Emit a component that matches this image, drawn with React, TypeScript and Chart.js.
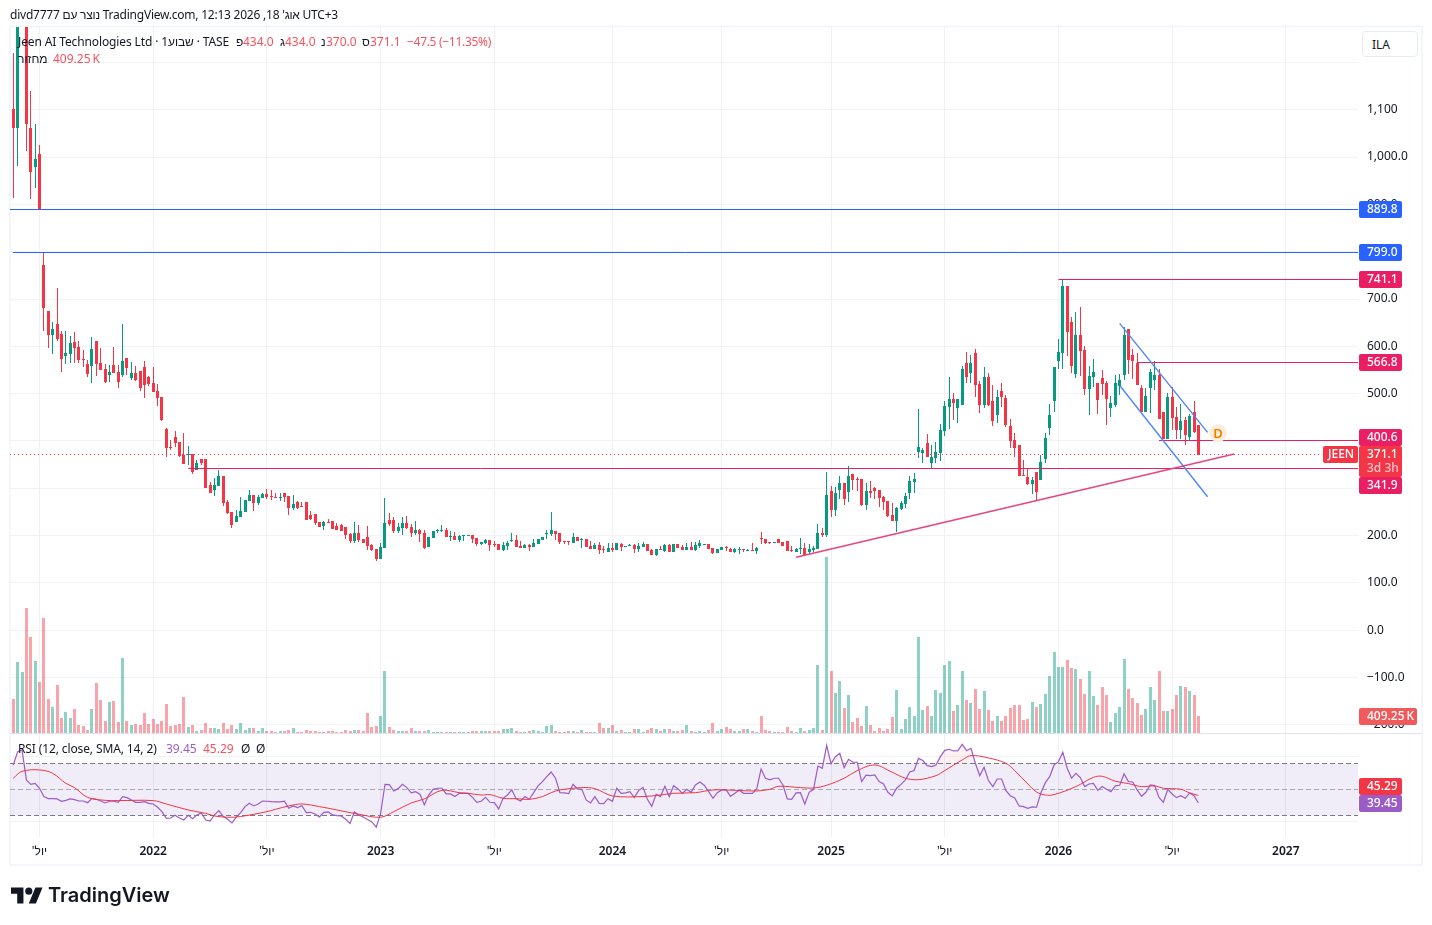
import React, { useEffect, useRef } from "react";
import { Chart, registerables } from "chart.js";

Chart.register(...registerables);

const opens = [
  1101,1062,1340,1450,1061,979,1006,772,675,625,
  647,626,580,584,609,599,573,563,559,611,
  565,552,539,561,546,539,575,533,544,548,
  556,535,523,506,493,425,387,408,398,370,
  370,372,339,362,362,307,296,305,326,271,
  250,229,239,250,273,286,269,280,288,284,
  282,280,290,284,258,271,263,271,244,246,
  229,220,229,231,220,222,218,203,189,206,
  193,197,180,172,151,174,233,233,210,216,
  227,218,206,212,206,176,195,210,210,212,
  197,199,191,199,200,201,195,182,185,191,
  182,182,170,178,189,191,178,174,180,176,
  182,191,204,204,210,206,189,188,185,197,
  191,193,178,172,180,172,165,174,170,182,
  177,178,180,172,176,182,170,159,172,168,
  180,165,182,176,170,176,170,178,181,182,
  174,163,170,176,172,165,170,172,168,170,
  168,195,193,187,185,193,187,189,170,165,
  172,174,165,170,172,206,201,294,254,297,
  311,292,330,320,320,265,294,301,297,282,
  273,244,231,256,267,290,313,377,375,396,
  354,364,375,421,472,489,470,476,565,544,
  586,520,476,535,485,455,506,491,432,402,
  392,328,324,309,335,318,362,427,485,569,
  586,727,651,542,624,592,510,535,523,533,
  523,470,476,516,539,637,582,565,512,461,
  512,529,539,461,404,493,451,423,444,408,
  461,434,
];
const highs = [
  1219,1420,1560,1520,1139,1070,1025,799,675,651,
  723,632,632,622,630,611,592,571,620,611,
  596,563,561,599,561,647,575,567,558,548,
  569,537,556,520,493,427,402,421,398,417,
  389,372,360,362,362,313,322,339,326,275,
  250,254,282,275,296,286,286,290,299,296,
  290,290,290,284,286,273,271,271,252,246,
  229,231,235,231,227,225,218,206,229,222,
  193,220,182,172,184,280,248,239,227,239,
  242,225,231,214,212,197,210,214,223,216,
  210,208,201,201,201,201,195,187,193,191,
  189,182,187,189,206,201,189,182,182,193,
  193,197,212,250,210,206,189,189,206,197,
  195,193,189,185,187,178,185,185,185,185,
  178,182,182,185,187,182,172,172,178,182,
  182,182,182,180,185,187,187,191,182,182,
  174,172,176,178,174,174,176,172,172,185,
  176,208,193,187,187,193,187,189,178,174,
  195,185,182,178,225,216,335,305,303,326,
  311,347,330,324,320,311,316,303,297,284,
  273,269,261,273,290,326,332,468,385,415,
  392,398,436,485,535,501,489,559,588,582,
  594,527,556,544,518,508,523,497,447,417,
  392,360,343,324,335,370,417,478,556,615,
  741,727,662,673,683,601,559,573,523,550,
  527,495,539,542,641,637,594,586,518,512,
  552,569,552,461,501,514,472,478,451,457,
  485,434,
];
const lows = [
  914,982,1300,1013,911,934,889,633,597,584,
  612,546,563,565,565,565,556,535,523,537,
  550,523,525,544,512,535,539,529,527,506,
  491,516,503,474,442,366,381,387,366,351,
  349,330,339,349,301,290,284,305,263,245,
  216,229,239,250,273,252,265,280,277,275,
  279,273,271,244,254,256,261,233,233,222,
  218,212,227,214,212,210,193,184,184,187,
  184,170,168,146,151,174,220,206,206,201,
  214,197,201,187,172,176,195,206,208,197,
  189,191,187,189,199,185,178,180,182,168,
  176,170,168,170,187,176,174,174,168,176,
  182,191,193,199,191,182,182,180,185,189,
  174,176,172,172,161,163,165,165,170,168,
  176,178,163,165,176,168,159,157,170,165,
  165,165,174,170,170,170,168,174,180,172,
  161,163,170,168,165,163,161,165,168,168,
  161,182,182,182,185,185,178,168,165,165,
  161,159,161,165,172,197,197,239,242,277,
  265,271,297,294,263,254,280,277,261,254,
  239,231,208,254,258,277,290,364,354,366,
  343,354,358,411,425,444,438,476,523,523,
  493,459,470,474,432,438,472,430,385,366,
  326,326,307,288,273,318,354,413,461,553,
  552,580,544,533,537,497,455,514,457,497,
  434,451,472,497,529,542,531,518,461,461,
  459,508,447,404,404,423,404,404,392,402,
  417,370,
];
const closes = [
  1062,1350,1500,1070,968,996,890,682,625,637,
  616,574,586,607,597,571,571,542,594,563,
  550,525,546,544,525,569,554,544,529,512,
  518,520,503,491,444,385,385,396,368,351,
  372,334,353,353,301,290,307,326,269,247,
  222,241,252,275,286,269,282,288,282,282,
  280,282,282,258,267,258,261,233,235,227,
  218,229,227,214,212,210,201,189,206,191,
  184,178,170,151,176,227,225,210,218,227,
  216,206,212,204,174,197,210,212,212,197,
  199,191,199,201,201,193,182,187,191,180,
  180,170,180,185,191,176,174,180,176,185,
  193,197,206,212,204,187,187,186,197,189,
  193,176,172,180,170,170,174,170,185,176,
  178,180,172,178,182,168,159,172,170,180,
  165,182,174,170,176,170,180,185,182,172,
  163,172,176,174,165,172,172,170,170,168,
  174,193,185,185,187,185,178,168,168,172,
  174,159,172,174,206,201,286,254,290,311,
  277,326,318,318,265,294,290,294,280,271,
  242,231,258,269,284,316,320,387,381,366,
  366,377,423,474,489,480,489,552,535,565,
  518,476,535,476,442,493,493,434,400,385,
  326,326,309,318,292,356,406,455,556,588,
  727,630,559,624,590,510,537,546,487,520,
  489,480,523,529,624,571,569,518,461,495,
  546,539,447,404,493,449,423,442,413,453,
  419,371.1,
];
const volumeK = [
  824,1712,1472,3008,2312,1736,1232,2768,824,632,
  1160,368,512,368,584,200,176,80,584,1208,
  800,296,752,776,272,1808,296,200,224,200,
  488,224,344,224,296,704,176,200,224,872,
  152,200,56,80,248,128,128,104,248,104,
  200,104,248,80,128,128,56,128,56,56,
  32,56,56,80,128,32,32,80,56,56,
  32,32,56,56,32,32,80,56,80,80,
  56,488,152,176,416,1496,152,80,56,56,
  56,128,56,56,56,80,32,32,32,32,
  32,32,32,32,32,56,56,56,56,56,
  56,56,104,104,128,56,32,32,56,80,
  56,32,176,200,56,32,32,56,56,32,
  80,32,32,32,248,128,128,200,56,80,
  32,32,104,104,32,80,128,104,56,104,
  104,56,56,80,200,56,32,56,32,80,
  248,56,104,152,104,56,56,104,104,56,
  32,416,80,56,32,32,32,152,56,32,
  128,56,80,128,1640,80,4232,1496,968,1256,
  608,920,272,368,176,656,200,56,128,56,
  104,392,1040,104,344,632,416,2312,560,656,
  416,1040,968,1640,1736,536,680,1496,800,728,
  1064,584,1016,560,296,416,296,416,608,680,
  680,320,344,752,632,704,944,1376,1952,1592,
  1592,1760,1568,1544,1304,944,1496,896,680,1112,
  920,272,488,632,1784,1064,848,728,440,584,
  1112,800,1496,536,536,584,920,1136,1112,1016,
  920,409.25,
];
const rsi = [
  68.7,79,80.3,57.2,53.8,54.6,50.8,44.4,42.8,42.8,
  42.6,40.8,41.5,42.6,42,41,41,39.7,43,42.3,
  41,39.5,40.8,40.8,40,44.4,43.6,41.8,40,40,
  40.5,39.2,38.7,36.2,32.8,27.7,27.9,30,27.9,26.4,
  30,27.4,30.3,31.8,26.4,25.6,30.3,33.6,29.2,26.9,
  24.1,28.5,32,36.7,39.2,37.2,38.7,41,40.8,40.5,
  40.3,40.3,40.8,35.4,37.2,35.9,37.4,32,32.3,31,
  28.7,32.3,32.6,30.3,29.7,29.5,26.9,23.8,32.6,30.3,
  28.7,26.7,24.9,20.8,31.5,53.8,53.6,48.7,50.5,53.8,
  51.3,47.2,48.2,46.2,38.2,45.6,50,50.8,50.8,46.4,
  46.4,44.4,46.9,46.9,46.9,43.8,40,40.8,
  43.8,40,39.7,34.9,43.1,45.6,49.5,42.6,41,44.4,42.3,47.4,
  52.6,55.9,59.7,63.3,58.5,47.4,47.2,46.7,53.8,50.3,
  50,41.8,39.5,44.4,39.2,39,42.8,40.8,50.8,46.9,
  47.2,48.2,43.8,49,51.5,42.3,36.9,46.2,44.4,52.3,
  44.4,52.8,50.3,46.9,50,47.7,53.3,55.6,53.1,48.2,
  43.1,47.4,49.5,49.7,44.6,46.9,49.2,46.9,46.9,46.9,
  50.3,65.6,58.5,57.2,58.5,58.5,53.3,42.6,42.3,47.2,
  47.4,38.7,47.7,50,67.9,66.2,83.8,69.7,75.1,77.7,
  66.7,73.1,70.8,70.8,55.9,60.8,60.5,61,55.9,54.1,
  47.7,44.9,50.8,53.8,57.2,63.3,64.4,73.8,72.1,68.2,
  67.4,68.7,75.1,80,80.8,79.5,79.7,84.6,79.7,81.5,
  70,60.5,66.9,56.7,52.1,57.9,57.9,49,45.1,43.3,
  37.2,36.7,35.4,36.4,36.2,47.4,55.1,59.7,68.7,71.3,
  78.5,66.2,58.5,62.3,59,52.1,54.1,54.6,49.2,52.1,
  50,48.2,52.6,53.1,61.8,55.9,55.6,49.5,44.6,47.7,
  53.3,52.8,43.8,40,50,46.4,43.6,45.1,43.1,47.2,
  45.1,39.45,
];
const rsiMaBars = [
  0,2,6,9,12,14,17,21,24,32,35,40,44,46,49,52,58,60,63,66,70,74,79,84,87,91,94,98,102,104,107,
  109,112,115,118,121,123,125,130,133,137,144,148,151,156,160,165,170,173,175,180,183,186,190,193,197,201,204,207,211,213,
  217,219,223,227,229,232,234,236,238,243,247,249,252,255,258,261,263,267,269,271,
];
const rsiMaValues = [
  58.5,63.8,64.9,62.3,54.6,51.3,43.8,41.5,41.3,41.3,38.7,34.1,31.5,29.5,28.5,29,32.8,34.6,37.2,38.7,36.7,34.1,30.8,28.5,32.8,39.5,42.6,49.2,47.4,46.9,45.6,
  45.9,43.1,42.8,42.3,44.4,47.4,49.5,51.3,50.5,44.9,44.4,45.6,46.9,47.4,49.5,49.2,48.7,50,52.3,51.3,51,53.1,58.5,64.4,68.7,63.1,58.5,57.4,60.5,64.4,
  72.6,75.9,74.1,70,64.4,54.1,47.9,45.6,45.9,52.1,59.2,60,56.2,54.4,52.1,52.6,50.8,50,47.2,45.29,
];
const priceTicks = [1200,1100,1000,900,800,700,600,500,400,300,200,100,0,-100,-200];
const rsiTicks = [75,25];
const timeTicks = [6,32,58,84,110,137,162,187,213,239,265,291];
const JUL = "יול'\u200F";
const timeLabels = [JUL,"2022",JUL,"2023",JUL,"2024",JUL,"2025",JUL,"2026",JUL,"2027"];

const levelValues = [889.8,799.0,741.1,566.8,400.6,341.9];
const levelStarts = [-0.75,-0.1,239,257,262,40];
const levelColors = ["#2962ff","#2962ff","#e91e63","#e91e63","#e91e63","#e91e63"];
const LAST_PRICE = 371.1;

const trendX = [179,279.2];
const trendY = [154.2,372.5];
const channelTopX = [253,273.1];
const channelTopY = [648.6,418.3];
const channelBottomX = [253.1,273.1];
const channelBottomY = [516.2,282.3];

const tagValues = [889.8,799.0,741.1,566.8];
const tagColors = ["#2962ff","#2962ff","#e91e63","#e91e63"];

const GREEN = "#089981";
const RED = "#F23645";
const LEGEND_RED = "#f7525f";
const PINK = "#e91e63";
const PURPLE = "#9c5cc8";
const FONT = "'Noto Sans', sans-serif";
const X_MAX = 307.5;
const X_MIN = -0.75;

const isUp = (i: number) => closes[i] >= opens[i];
const fmtPrice = (v: number) => {
  if (v === 1200) return "";
  if (v === 1100) return "1,100";
  if (v === 1000) return "1,000.0";
  return (v < 0 ? "\u2212" : "") + Math.abs(v).toFixed(1);
};

const pixelSnap = {
  id: "pixelSnap",
  afterDatasetsUpdate(chart: any) {
    chart.getSortedVisibleDatasetMetas().forEach((m: any) => {
      if (m.type === "bar") {
        m.data.forEach((el: any) => {
          el.x = Math.floor(el.x) + 0.5;
          el.y = Math.round(el.y);
          el.base = Math.round(el.base);
          if (el.y === el.base) el.base = el.y + 1;
        });
      } else if ((chart.data.datasets[m.index] as any).snapY) {
        m.data.forEach((el: any) => {
          el.y = Math.floor(el.y) + 0.5;
        });
      }
    });
  },
};

const roundRect = (c: CanvasRenderingContext2D, x: number, y: number, w: number, h: number, r: number) => {
  c.beginPath();
  c.roundRect(x, y, w, h, r);
  c.fill();
};

const panes = {
  id: "panes",
  beforeDraw(chart: any) {
    const c = chart.ctx;
    c.save();
    c.fillStyle = "#ffffff";
    c.fillRect(0, 0, chart.width, chart.height);
    c.strokeStyle = "#f0f3fa";
    c.lineWidth = 1.5;
    c.strokeRect(10, 26.5, 1412, 838.5);
    c.restore();
  },
  beforeDatasetsDraw(chart: any) {
    const c = chart.ctx;
    const a = chart.chartArea;
    const r = chart.scales.rsi;
    const y70 = r.getPixelForValue(70);
    const y50 = r.getPixelForValue(50);
    const y30 = r.getPixelForValue(30);
    c.save();
    c.fillStyle = "rgba(126,87,194,0.115)";
    c.fillRect(a.left, y70, a.width, y30 - y70);
    c.lineWidth = 1;
    c.setLineDash([5, 3]);
    [[y70, "#787b86"], [y50, "rgba(120,123,134,0.6)"], [y30, "#787b86"]].forEach(([y, col]: any) => {
      c.strokeStyle = col;
      c.beginPath();
      c.moveTo(a.left, Math.floor(y) + 0.5);
      c.lineTo(a.right, Math.floor(y) + 0.5);
      c.stroke();
    });
    c.setLineDash([]);
    const sep = Math.floor(chart.scales.volume.getPixelForValue(0)) + 0.5;
    c.strokeStyle = "#e0e3eb";
    c.beginPath();
    c.moveTo(a.left, sep);
    c.lineTo(1422, sep);
    c.stroke();
    c.restore();
  },
  afterDraw(chart: any) {
    const c = chart.ctx;
    const p = chart.scales.price;
    const v = chart.scales.volume;
    const r = chart.scales.rsi;
    const x = chart.scales.x;
    const L = 1359;
    const W = 43;
    c.save();
    c.textBaseline = "middle";
    c.textAlign = "left";
    const box = (top: number, w: number, h: number, col: string) => {
      c.fillStyle = col;
      roundRect(c, L, top, w, h, 2);
    };
    const label = (text: string, cy: number, col = "#ffffff") => {
      c.fillStyle = col;
      c.font = `500 12px ${FONT}`;
      c.fillText(text, L + 8, cy);
    };
    tagValues.forEach((val, i) => {
      const y = Math.floor(p.getPixelForValue(val));
      box(y - 8, W, 17, tagColors[i]);
      label(val.toFixed(1), y + 1);
    });
    // tags that the original pushes apart so that they do not overlap
    const yLast = Math.floor(p.getPixelForValue(LAST_PRICE));
    box(yLast - 25, W, 17, PINK);
    label("400.6", yLast - 16);
    box(yLast - 8, W, 31, RED);
    c.fillStyle = RED;
    roundRect(c, 1323, yLast - 8, 35, 17, 2);
    label(LAST_PRICE.toFixed(1), yLast + 1);
    c.fillStyle = "#ffffff";
    c.fillText("JEEN", 1328, yLast + 1);
    label("3d 3h", yLast + 15, "#ffc4c9");
    box(yLast + 23, W, 17, PINK);
    label("341.9", yLast + 32);

    const yVol = Math.floor(v.getPixelForValue(volumeK[volumeK.length - 1]));
    box(yVol - 8, 58, 17, "#f05a5a");
    label("409.25\u2009K", yVol + 1);

    const yRsi = Math.floor(r.getPixelForValue(rsi[rsi.length - 1]));
    box(yRsi - 25, W, 17, RED);
    label("45.29", yRsi - 16);
    box(yRsi - 8, W, 17, PURPLE);
    label("39.45", yRsi + 1);

    const dx = x.getPixelForValue(275.5);
    const dy = p.getPixelForValue(416.8);
    c.fillStyle = "#fdeedb";
    c.beginPath();
    c.arc(dx, dy, 9, 0, Math.PI * 2);
    c.fill();
    c.fillStyle = "#f57c00";
    c.textAlign = "center";
    c.font = `600 13px ${FONT}`;
    c.fillText("D", dx, dy + 1);
    c.restore();
  },
};

const lineSet = (data: any[], color: string, order: number, extra: any = {}) => ({
  type: "line" as const,
  data,
  borderColor: color,
  borderWidth: 1,
  pointRadius: 0,
  tension: 0,
  fill: false,
  xAxisID: "x",
  yAxisID: "price",
  order,
  ...extra,
});

export default function App() {
  const ref = useRef<HTMLCanvasElement | null>(null);
  useEffect(() => {
    if (!ref.current) return;
    const idx = opens.map((_, i) => i);
    const candleColor = idx.map((i) => (isUp(i) ? GREEN : RED));
    const volColor = idx.map((i) => (isUp(i) ? "rgba(8,153,129,0.45)" : "rgba(242,54,69,0.45)"));
    const chart = new Chart(ref.current, {
      data: {
        datasets: [
          { type: "bar", data: idx.map((i) => ({ x: i, y: volumeK[i] })), backgroundColor: volColor, barThickness: 3, grouped: false, inflateAmount: 0, xAxisID: "x", yAxisID: "volume", order: 20 } as any,
          { type: "bar", data: idx.map((i) => ({ x: i, y: [lows[i], highs[i]] })), backgroundColor: candleColor, barThickness: 1, grouped: false, inflateAmount: 0, xAxisID: "x", yAxisID: "price", order: 12 } as any,
          { type: "bar", data: idx.map((i) => ({ x: i, y: [opens[i], closes[i]] })), backgroundColor: candleColor, barThickness: 3, grouped: false, inflateAmount: 0, xAxisID: "x", yAxisID: "price", order: 11 } as any,
          ...levelValues.map((v, i) =>
            lineSet([{ x: levelStarts[i], y: v }, { x: X_MAX, y: v }], levelColors[i], 5, { snapY: true }),
          ),
          lineSet([{ x: X_MIN, y: LAST_PRICE }, { x: 299.3, y: LAST_PRICE }], RED, 6, { borderDash: [1, 3], snapY: true }),
          lineSet(trendX.map((x, i) => ({ x, y: trendY[i] })), "#e8457f", 4, { borderWidth: 1.6 }),
          lineSet(channelTopX.map((x, i) => ({ x, y: channelTopY[i] })), "#4f86fb", 4, { borderWidth: 1.4 }),
          lineSet(channelBottomX.map((x, i) => ({ x, y: channelBottomY[i] })), "#4f86fb", 4, { borderWidth: 1.4 }),
          lineSet(idx.map((i) => ({ x: i, y: rsi[i] })), PURPLE, 3, {
            yAxisID: "rsi",
            borderWidth: 1.2,
            fill: { value: 70, above: "rgba(242,54,69,0.07)", below: "rgba(0,0,0,0)" },
          }),
          lineSet(rsiMaBars.map((b, i) => ({ x: b, y: rsiMaValues[i] })), RED, 2, { yAxisID: "rsi", borderWidth: 1, tension: 0.35 }),
        ],
      },
      options: {
        responsive: false,
        animation: false,
        events: [],
        layout: { padding: { top: 27, left: 10, right: 0, bottom: 0 } },
        plugins: { legend: { display: false }, tooltip: { enabled: false } },
        scales: {
          x: {
            type: "linear",
            offset: false,
            min: X_MIN,
            max: X_MAX,
            afterBuildTicks: (s: any) => { s.ticks = timeTicks.map((value) => ({ value })); },
            afterFit: (s: any) => { s.height = 88; },
            grid: { color: "#eff1f4", drawTicks: false, tickLength: 0, offset: false },
            border: { display: false },
            ticks: {
              autoSkip: false,
              maxRotation: 0,
              padding: 7,
              color: "#131722",
              font: (ctx: any) => {
                const t = timeLabels[timeTicks.indexOf(ctx.tick?.value)];
                return { family: FONT, size: 12, weight: t && t.startsWith("2") ? 600 : 400 };
              },
              callback: (v: any) => timeLabels[timeTicks.indexOf(v)] ?? "",
            },
          },
          price: {
            type: "linear",
            position: "right",
            min: -436.7,
            max: 1274.7,
            afterBuildTicks: (s: any) => { s.ticks = priceTicks.map((value) => ({ value })); },
            afterFit: (s: any) => { s.width = 74; },
            grid: { color: "#f2f3f6", drawTicks: false, tickLength: 0 },
            border: { display: false },
            ticks: {
              autoSkip: false,
              padding: 9,
              color: "#131722",
              font: { family: FONT, size: 12 },
              callback: (v: any) => fmtPrice(Number(v)),
            },
          },
          rsi: {
            type: "linear",
            position: "right",
            min: 13.3,
            max: 636.4,
            afterBuildTicks: (s: any) => { s.ticks = rsiTicks.map((value) => ({ value })); },
            afterFit: (s: any) => { s.width = 0; },
            grid: { color: "#f2f3f6", drawTicks: false, tickLength: 0 },
            border: { display: false },
            ticks: {
              autoSkip: false,
              padding: 9,
              color: "#131722",
              font: { family: FONT, size: 12 },
              callback: (v: any) => Number(v).toFixed(2),
            },
          },
          volume: { type: "linear", display: false, min: -2489, max: 16951 },
        },
      } as any,
      plugins: [pixelSnap, panes] as any,
    });
    return () => chart.destroy();
  }, []);

  const t = (left: number, top: number, color: string, text: string, extra: any = {}) => (
    <span style={{ position: "absolute", left, top, color, whiteSpace: "pre", lineHeight: "16px", ...extra }}>{text}</span>
  );
  return (
    <div style={{ position: "absolute", left: 0, top: 0, width: 1432, height: 925, overflow: "hidden", background: "#fff", fontFamily: FONT, fontSize: 12 }}>
      <canvas ref={ref} width={1432} height={925} style={{ display: "block" }} />
      {t(10, 7, "#131722", "divd7777 נוצר עם TradingView.com, 12:13 2026 ,18 אוג'\u200F UTC+3", { letterSpacing: "-0.23px" })}
      {t(18, 34, "#131722", "Jeen AI Technologies Ltd · 1שבוע · TASE", { letterSpacing: "-0.12px" })}
      {t(236, 34, "#131722", "פ")}
      {t(243, 34, LEGEND_RED, "434.0")}
      {t(280, 34, "#131722", "ג")}
      {t(285, 34, LEGEND_RED, "434.0")}
      {t(321, 34, "#131722", "נ")}
      {t(326, 34, LEGEND_RED, "370.0")}
      {t(362, 34, "#131722", "ס")}
      {t(370, 34, LEGEND_RED, "371.1")}
      {t(407, 34, LEGEND_RED, "\u221247.5 (\u221211.35%)", { letterSpacing: "-0.3px" })}
      {t(18, 51, "#131722", "מחזור")}
      {t(53, 51, LEGEND_RED, "409.25\u2009K")}
      {t(18, 741, "#131722", "RSI (12, close, SMA, 14, 2)", { letterSpacing: "-0.12px" })}
      {t(166, 741, PURPLE, "39.45")}
      {t(203, 741, LEGEND_RED, "45.29")}
      {t(241, 741, "#131722", "Ø")}
      {t(256, 741, "#131722", "Ø")}
      <div style={{ position: "absolute", left: 1362, top: 31, width: 56, height: 26, border: "1px solid #e8ebf2", borderRadius: 4, background: "#fff", color: "#131722", lineHeight: "26px", paddingLeft: 9, boxSizing: "border-box" }}>ILA</div>
      <svg style={{ position: "absolute", left: 11, top: 884 }} width={32} height={25} viewBox="0 0 36 28">
        <path fill="#131722" d="M14 22H7V11H0V4h14v18zM28 22h-8l7.5-18h8L28 22z" />
        <circle fill="#131722" cx="20" cy="8" r="4" />
      </svg>
      <span style={{ position: "absolute", left: 48, top: 882, fontFamily: "Inter, sans-serif", fontWeight: 600, fontSize: 20, lineHeight: "26px", color: "#131722" }}>TradingView</span>
    </div>
  );
}
